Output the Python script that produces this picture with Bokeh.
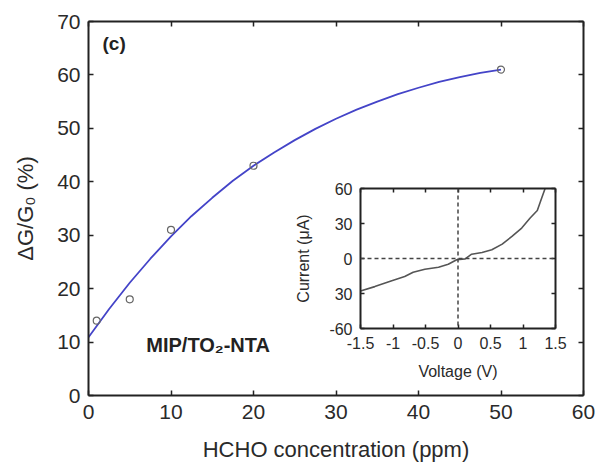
from bokeh.plotting import figure
from bokeh.models import Range1d, LinearAxis, FixedTicker, Span, Label
from bokeh.layouts import column
from bokeh.embed import file_html
from bokeh.resources import INLINE

# ---- main data ----
conc = [1, 5, 10, 20, 50]
response = [14.0, 18.0, 31.0, 43.0, 61.0]
fit_x = [0, 2.5, 5, 7.5, 10, 12.5, 15, 17.5, 20, 22.5, 25, 27.5, 30, 32.5, 35,
         37.5, 40, 42.5, 45, 47.5, 50]
fit_y = [10.9, 16.2, 21.1, 25.6, 29.8, 33.6, 37.0, 40.2, 43.0, 45.5, 47.8, 49.9, 51.8, 53.5, 55.0,
         56.4, 57.6, 58.7, 59.6, 60.4, 61.0]
x_ticks = [0, 10, 20, 30, 40, 50, 60]
y_ticks = [0, 10, 20, 30, 40, 50, 60, 70]

# ---- inset data ----
voltage = [-1.5, -1.28, -1.03, -0.82, -0.69, -0.51, -0.30, -0.15, -0.02, 0.11, 0.21, 0.37,
           0.52, 0.68, 0.83, 0.98, 1.11, 1.22, 1.27, 1.34]
current = [-27.8, -24.1, -19.2, -15.5, -11.8, -9.2, -7.5, -4.9, -1.1, -0.3, 3.7, 5.2,
           7.5, 12.3, 18.9, 26.1, 34.7, 41.1, 49.1, 60.0]
v_ticks = [-1.5, -1, -0.5, 0, 0.5, 1, 1.5]
v_labels = {-1.5: "-1.5", -1: "-1", -0.5: "-0.5", 0: "0", 0.5: "0.5", 1: "1", 1.5: "1.5"}
i_ticks = [-60, -30, 0, 30, 60]
i_labels = {-60: "-60", -30: "30", 0: "0", 30: "30", 60: "60"}

FONT = "Liberation Sans"
AX = "#222222"
TXT = "#2a2a2a"


def style_axis(ax, size, show_labels=True, tick_in=5):
    ax.axis_line_color = AX
    ax.axis_line_width = 2
    ax.major_tick_line_color = AX
    ax.major_tick_line_width = 1.5
    ax.major_tick_in = tick_in
    ax.major_tick_out = 0
    ax.minor_tick_line_color = None
    ax.major_label_text_font = FONT
    ax.major_label_text_color = TXT
    ax.axis_label_text_font = FONT
    ax.axis_label_text_font_style = "normal"
    ax.axis_label_text_color = TXT
    if show_labels:
        ax.major_label_text_font_size = size
    else:
        ax.major_label_text_font_size = "0px"
        ax.major_label_standoff = 0


p = figure(frame_width=495, frame_height=374,
           min_border_left=88, min_border_right=15, min_border_top=21, min_border_bottom=67,
           x_range=Range1d(0, 60), y_range=Range1d(0, 70),
           output_backend="svg", toolbar_location=None)
p.outline_line_color = None
p.xgrid.grid_line_color = None
p.ygrid.grid_line_color = None
p.background_fill_color = "white"
p.border_fill_color = "white"

p.xaxis.ticker = FixedTicker(ticks=x_ticks)
p.yaxis.ticker = FixedTicker(ticks=y_ticks)
style_axis(p.xaxis[0], "21px")
style_axis(p.yaxis[0], "21px")
p.xaxis.axis_label = "HCHO concentration (ppm)"
p.yaxis.axis_label = "ΔG/G₀ (%)"
p.xaxis.axis_label_text_font_size = "22px"
p.yaxis.axis_label_text_font_size = "22px"
p.xaxis.major_label_standoff = 9
p.yaxis.major_label_standoff = 8
p.xaxis.axis_label_standoff = 15
p.yaxis.axis_label_standoff = 16

top = LinearAxis(ticker=FixedTicker(ticks=x_ticks))
right = LinearAxis(ticker=FixedTicker(ticks=y_ticks))
style_axis(top, "0px", show_labels=False)
style_axis(right, "0px", show_labels=False)
p.add_layout(top, "above")
p.add_layout(right, "right")

p.line(fit_x, fit_y, line_color="#4444c8", line_width=1.8, line_join="round")
p.scatter(conc, response, size=7, marker="circle", fill_color=None,
          line_color="#666666", line_width=1.2)

p.add_layout(Label(x=1.7, y=65.9, text="(c)", text_font=FONT, text_font_size="19px",
                   text_font_style="bold", text_color="#222222",
                   text_baseline="middle", text_align="left"))
p.add_layout(Label(x=14.5, y=9.4, text="MIP/TO₂-NTA", text_font=FONT, text_font_size="20px",
                   text_font_style="bold", text_color="#222222",
                   text_baseline="middle", text_align="center"))

# ---- inset (column aligns its left border with the main plot's, so offset it) ----
ins = figure(width=298, height=210,
             min_border_left=66, min_border_right=15, min_border_top=8, min_border_bottom=62,
             x_range=Range1d(-1.5, 1.5), y_range=Range1d(-60, 60),
             output_backend="svg", toolbar_location=None,
             styles={"position": "absolute", "left": "272px", "top": "180px"})
ins.outline_line_color = None
ins.xgrid.grid_line_color = None
ins.ygrid.grid_line_color = None
ins.background_fill_color = "white"
ins.border_fill_color = None
ins.xaxis.ticker = FixedTicker(ticks=v_ticks)
ins.yaxis.ticker = FixedTicker(ticks=i_ticks)
ins.xaxis.major_label_overrides = v_labels
ins.yaxis.major_label_overrides = i_labels
style_axis(ins.xaxis[0], "16px", tick_in=4)
style_axis(ins.yaxis[0], "16px", tick_in=4)
ins.xaxis.axis_label = "Voltage (V)"
ins.yaxis.axis_label = "Current (μA)"
ins.xaxis.axis_label_text_font_size = "16px"
ins.yaxis.axis_label_text_font_size = "16px"
ins.xaxis.major_label_standoff = 8
ins.yaxis.major_label_standoff = 8
ins.xaxis.axis_label_standoff = 11
ins.yaxis.axis_label_standoff = 14
itop = LinearAxis(ticker=FixedTicker(ticks=v_ticks))
iright = LinearAxis(ticker=FixedTicker(ticks=i_ticks))
style_axis(itop, "0px", show_labels=False, tick_in=4)
style_axis(iright, "0px", show_labels=False, tick_in=4)
ins.add_layout(itop, "above")
ins.add_layout(iright, "right")

ins.add_layout(Span(location=0, dimension="height", line_color="#444444",
                    line_dash="4 3", line_width=1.5))
ins.add_layout(Span(location=0, dimension="width", line_color="#444444",
                    line_dash="4 3", line_width=1.5))
ins.line(voltage, current, line_color="#555555", line_width=1.6, line_join="round")

layout = column(p, ins, styles={"position": "relative"})

open("out.html", "w").write(file_html(layout, INLINE))
